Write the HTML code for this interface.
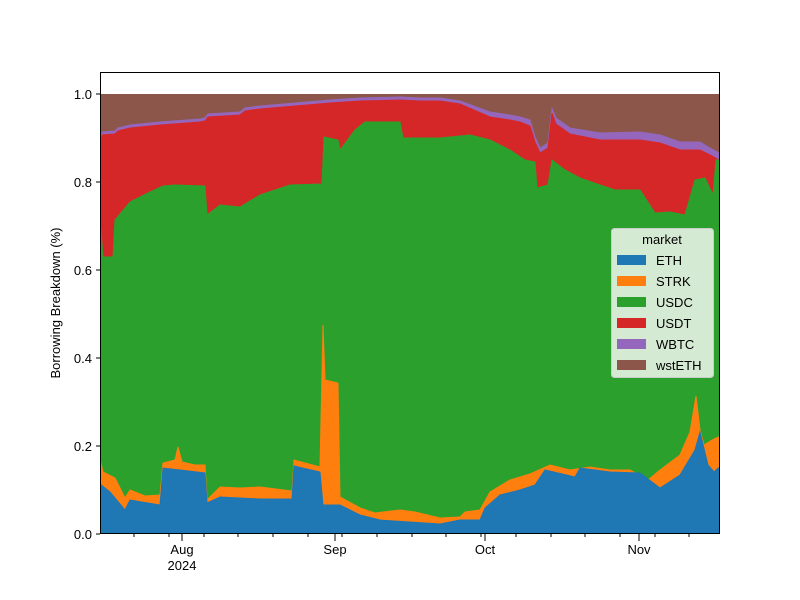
<!DOCTYPE html>
<html><head><meta charset="utf-8"><style>body{margin:0;background:#fff}svg{display:block;font-family:"Liberation Sans","DejaVu Sans",sans-serif}</style></head><body>
<svg width="800" height="600" viewBox="0 0 800 600" xmlns="http://www.w3.org/2000/svg">
<rect width="800" height="600" fill="#fff"/>
<defs><clipPath id="c"><rect x="100" y="72" width="620" height="462"/></clipPath></defs>
<g clip-path="url(#c)">
<rect x="100" y="94" width="620" height="440" fill="#8c564b"/>
<polygon fill="#9467bd" stroke="#9467bd" stroke-width="1" points="100,534 100,147 102,132 115,131 118,128 130,125 160,122 200,119 205,118 208,114 240,112 245,108 260,106 295,103 330,100 360,98 400,97 420,98 440,98 460,101 490,112 510,115 520,117 530,120 535,137 540,148 548,143 552,108 556,118 570,128 600,133 640,132 660,135 680,142 700,142 710,148 719,153 720,534"/>
<polygon fill="#d62728" stroke="#d62728" stroke-width="1" points="100,534 100,150 102,135 115,134 118,131 130,128 160,125 200,122 205,121 208,117 240,115 245,111 260,109 295,106 330,103 360,101 400,100 420,101 440,101 460,104 490,117 510,120 520,122 530,126 535,142 540,153 548,148 552,113 556,124 570,134 600,140 640,140 660,143 680,150 700,150 710,155 719,160 720,534"/>
<polygon fill="#2ca02c" stroke="#2ca02c" stroke-width="1" points="100,534 100,220 103,257 113,257 115,220 130,202 150,192 163,186 175,185 205,186 207,215 220,205 240,207 260,195 290,185 322,184 324,137 338,140 340,150 355,130 365,122 400,122 403,138 440,138 470,135 490,140 510,150 525,160 535,162 537,188 548,185 552,160 565,170 580,178 600,185 615,190 640,190 655,213 670,212 685,215 695,180 705,178 713,195 716,160 720,160 720,534"/>
<polygon fill="#ff7f0e" stroke="#ff7f0e" stroke-width="1" points="100,534 100,459 103,472 115,478 125,498 130,490 145,496 160,495 163,463 175,460 178,447 182,462 195,465 205,465 207,500 220,487 240,488 260,487 292,491 294,460 320,467 323,325 325,380 338,383 340,497 360,508 375,513 400,510 415,512 440,518 460,517 465,512 480,510 490,492 510,480 530,474 550,465 570,470 590,467 610,470 630,470 648,480 660,470 680,455 690,432 696,396 700,430 704,445 712,440 718,437 720,437 720,534"/>
<polygon fill="#1f77b4" stroke="#1f77b4" stroke-width="1" points="100,534 100,484 110,492 125,510 130,500 160,505 163,468 180,470 205,473 207,503 220,497 260,499 292,499 294,466 320,472 323,505 340,505 360,515 380,520 440,524 460,520 480,520 485,508 500,495 520,490 535,485 545,470 575,477 580,468 610,472 640,473 660,488 680,475 695,450 700,432 708,465 714,472 718,468 720,468 720,534"/>
</g>
<rect x="100.5" y="72.5" width="619" height="461" fill="none" stroke="#000" stroke-width="1"/>
<g stroke="#000" stroke-width="1">
<line x1="100" y1="534" x2="96" y2="534"/><line x1="100" y1="446" x2="96" y2="446"/><line x1="100" y1="358" x2="96" y2="358"/><line x1="100" y1="270" x2="96" y2="270"/><line x1="100" y1="182" x2="96" y2="182"/><line x1="100" y1="94" x2="96" y2="94"/>
<line x1="182" y1="534" x2="182" y2="541"/><line x1="335" y1="534" x2="335" y2="541"/><line x1="485" y1="534" x2="485" y2="541"/><line x1="639" y1="534" x2="639" y2="541"/>
<line x1="134" y1="534" x2="134" y2="537"/><line x1="169" y1="534" x2="169" y2="537"/><line x1="204" y1="534" x2="204" y2="537"/><line x1="238" y1="534" x2="238" y2="537"/><line x1="273" y1="534" x2="273" y2="537"/><line x1="308" y1="534" x2="308" y2="537"/><line x1="342" y1="534" x2="342" y2="537"/><line x1="377" y1="534" x2="377" y2="537"/><line x1="412" y1="534" x2="412" y2="537"/><line x1="446" y1="534" x2="446" y2="537"/><line x1="481" y1="534" x2="481" y2="537"/><line x1="516" y1="534" x2="516" y2="537"/><line x1="551" y1="534" x2="551" y2="537"/><line x1="585" y1="534" x2="585" y2="537"/><line x1="620" y1="534" x2="620" y2="537"/><line x1="655" y1="534" x2="655" y2="537"/><line x1="689" y1="534" x2="689" y2="537"/>
</g>
<g font-size="13" fill="#000" text-anchor="end">
<text x="92" y="539">0.0</text><text x="92" y="451">0.2</text><text x="92" y="363">0.4</text><text x="92" y="275">0.6</text><text x="92" y="187">0.8</text><text x="92" y="99">1.0</text>
</g>
<g font-size="13" fill="#000" text-anchor="middle">
<text x="182" y="554">Aug</text><text x="182" y="570">2024</text><text x="335" y="554">Sep</text><text x="485" y="554">Oct</text><text x="639" y="554">Nov</text>
</g>
<text x="60" y="303" font-size="13" text-anchor="middle" transform="rotate(-90 60 303)">Borrowing Breakdown (%)</text>
<rect x="611.5" y="228.5" width="102" height="149" rx="3" fill="#d5ead3" stroke="#ccc"/>
<text x="662" y="244" font-size="13" text-anchor="middle">market</text>
<g font-size="13">
<rect x="617" y="255" width="29" height="10" fill="#1f77b4"/><text x="656" y="265">ETH</text>
<rect x="617" y="276" width="29" height="10" fill="#ff7f0e"/><text x="656" y="286">STRK</text>
<rect x="617" y="297" width="29" height="10" fill="#2ca02c"/><text x="656" y="307">USDC</text>
<rect x="617" y="318" width="29" height="10" fill="#d62728"/><text x="656" y="328">USDT</text>
<rect x="617" y="339" width="29" height="10" fill="#9467bd"/><text x="656" y="349">WBTC</text>
<rect x="617" y="360" width="29" height="10" fill="#8c564b"/><text x="656" y="370">wstETH</text>
</g>
</svg>
</body></html>
